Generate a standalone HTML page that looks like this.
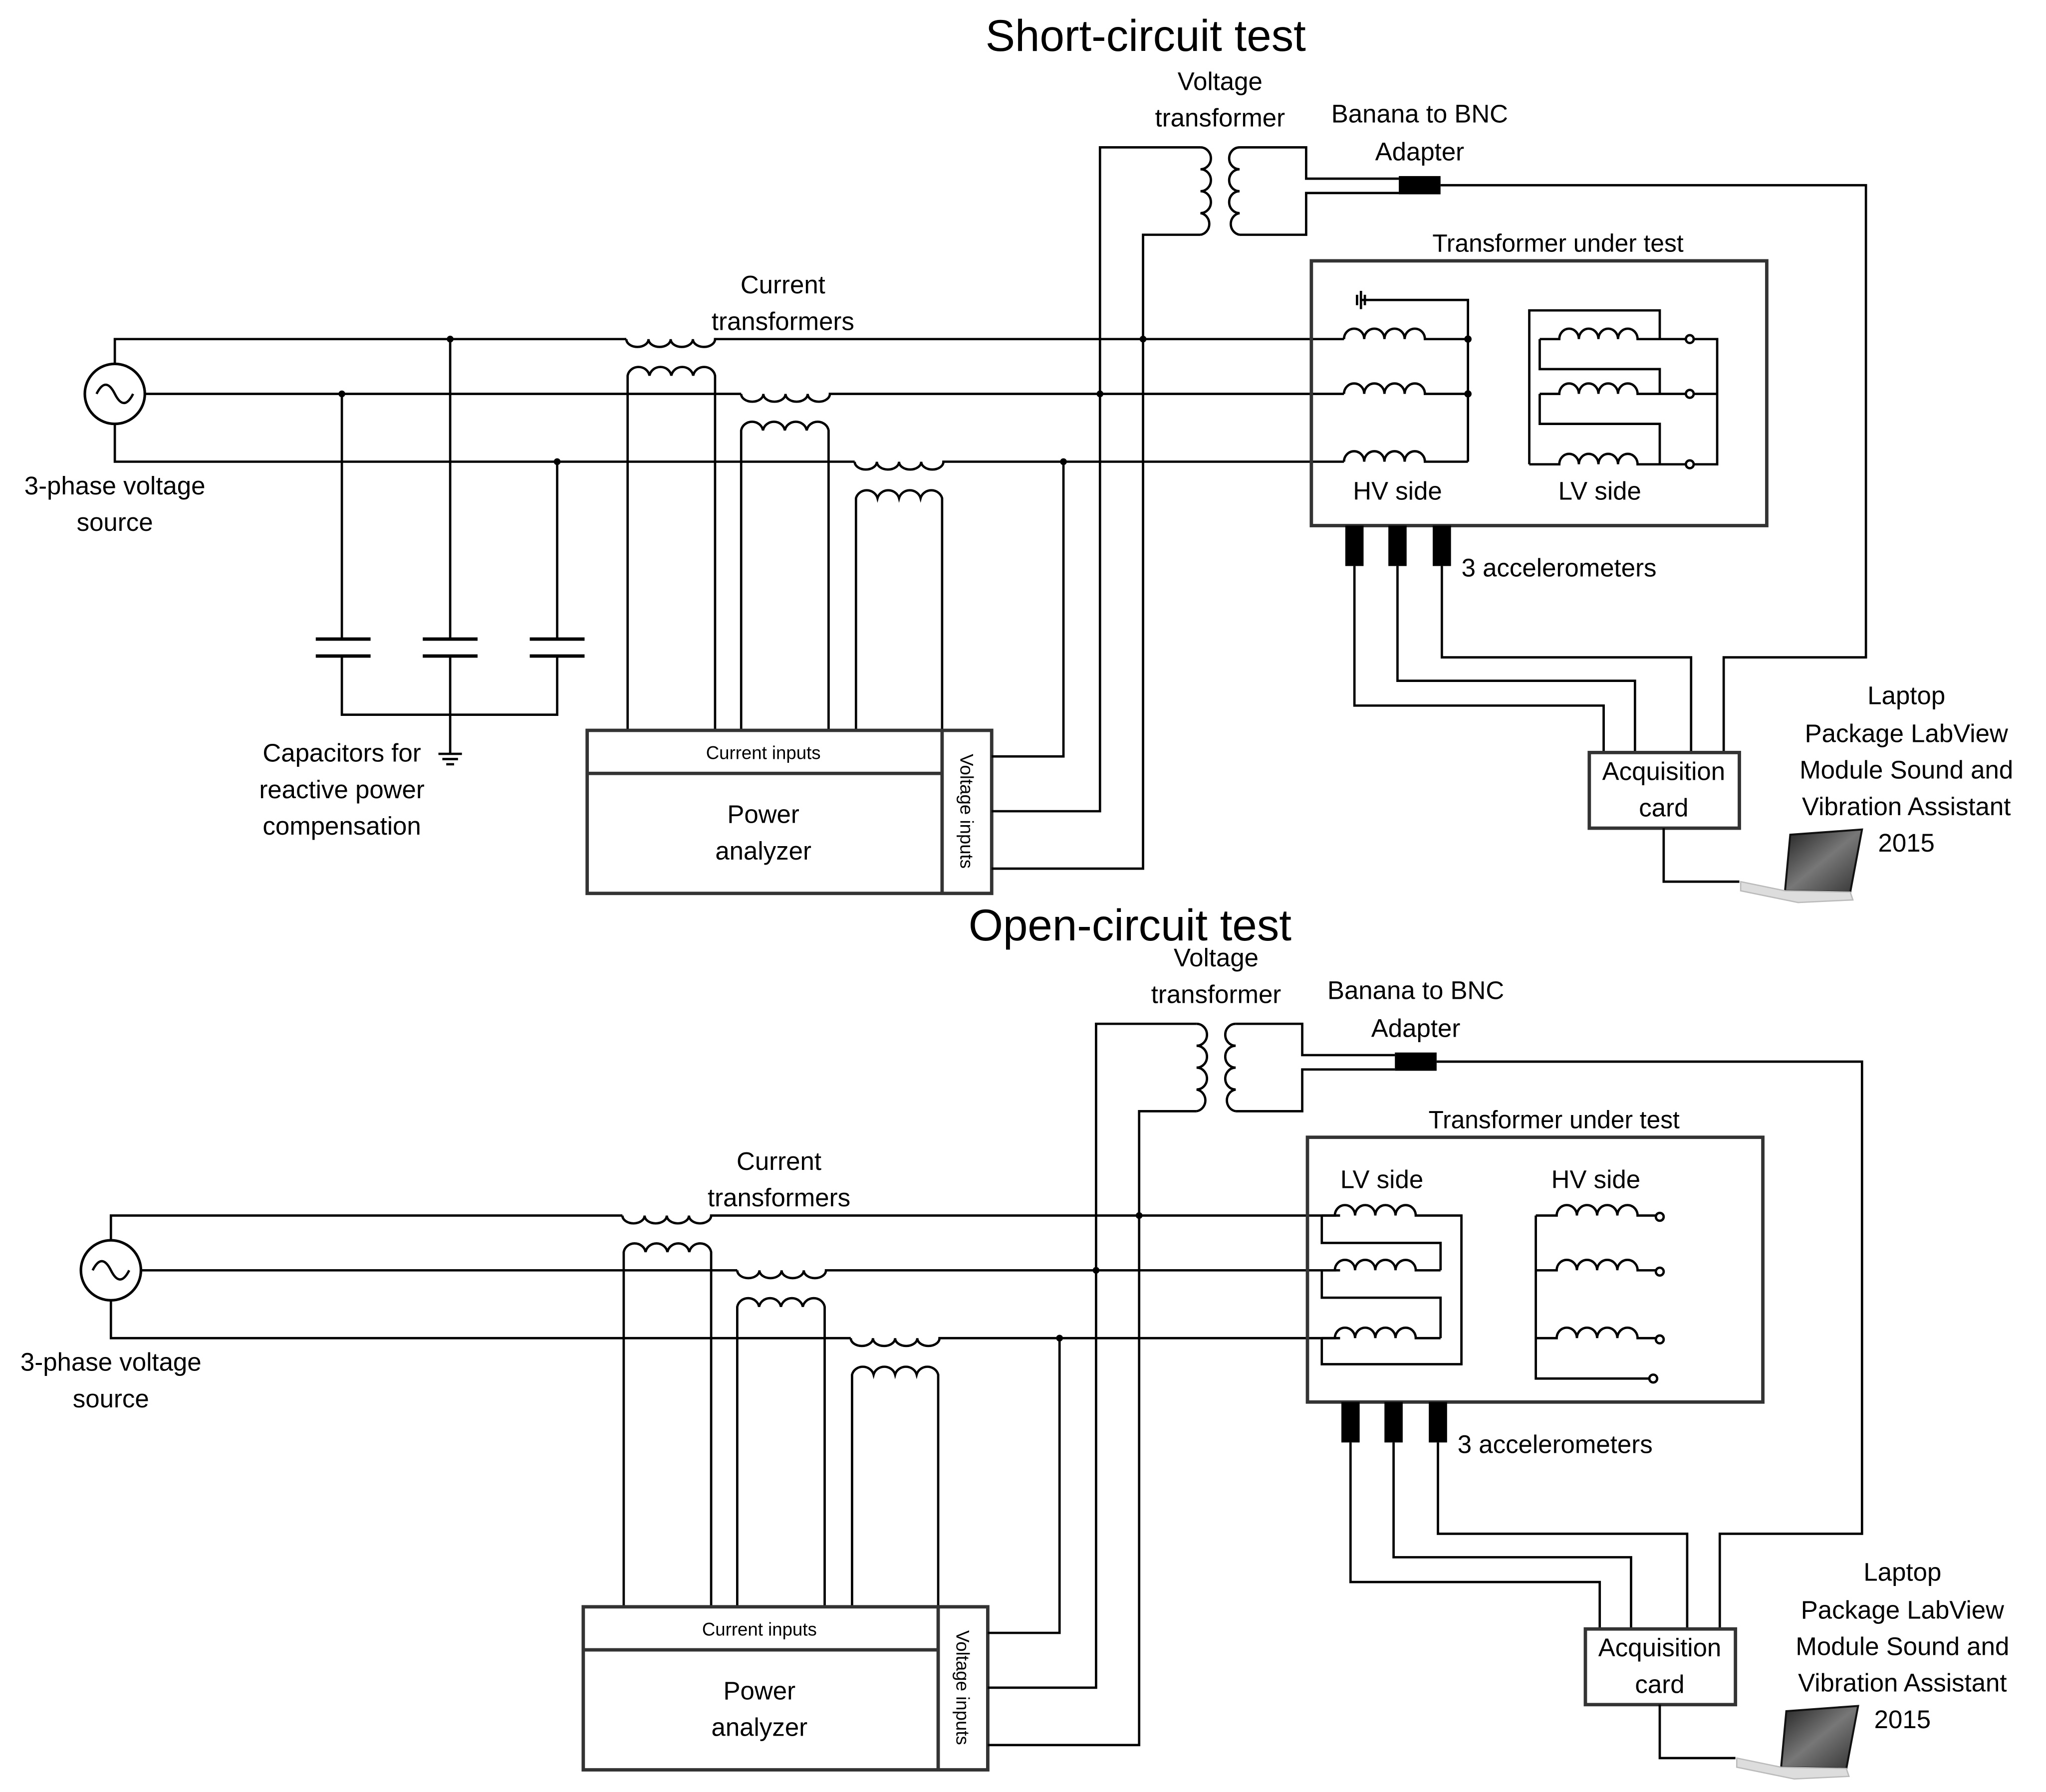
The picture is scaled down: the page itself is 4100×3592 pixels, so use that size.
<!DOCTYPE html>
<html><head><meta charset="utf-8">
<style>
html,body{margin:0;padding:0;background:#fff;}
svg{display:block;}
text{font-family:"Liberation Sans",sans-serif;fill:#000;}
</style></head>
<body>
<svg width="4100" height="3592" viewBox="0 0 1568 1374" preserveAspectRatio="none" xmlns="http://www.w3.org/2000/svg">
<defs>
<linearGradient id="scr" x1="0" y1="0" x2="1" y2="1">
<stop offset="0" stop-color="#222"/><stop offset="0.5" stop-color="#777"/><stop offset="1" stop-color="#333"/>
</linearGradient>
<g id="common" fill="none" stroke="#000" stroke-width="1.8">
  <circle cx="88" cy="302" r="23" stroke-width="2"/>
  <path d="M74,302 q7,-14 14,0 q7,14 14,0" stroke-width="1.8"/>
  <path d="M88,279 V260 H480"/>
  <path d="M111,302 H568"/>
  <path d="M88,325 V354 H655"/>
  <path d="M480,260 a8.5,6 0 0 0 17,0 a8.5,6 0 0 0 17,0 a8.5,6 0 0 0 17,0 a8.5,6 0 0 0 17,0 H1030"/>
  <path d="M481,560 V288 a8.5,8 0 0 1 16.75,0 a8.5,8 0 0 1 16.75,0 a8.5,8 0 0 1 16.75,0 a8.5,8 0 0 1 16.75,0 V560"/>
  <path d="M568,302 a8.5,6 0 0 0 17,0 a8.5,6 0 0 0 17,0 a8.5,6 0 0 0 17,0 a8.5,6 0 0 0 17,0 H1030"/>
  <path d="M568,560 V330 a8.5,8 0 0 1 16.75,0 a8.5,8 0 0 1 16.75,0 a8.5,8 0 0 1 16.75,0 a8.5,8 0 0 1 16.75,0 V560"/>
  <path d="M655,354 a8.5,6 0 0 0 17,0 a8.5,6 0 0 0 17,0 a8.5,6 0 0 0 17,0 a8.5,6 0 0 0 17,0 H1030"/>
  <path d="M656,560 V382 a8.5,8 0 0 1 16.5,0 a8.5,8 0 0 1 16.5,0 a8.5,8 0 0 1 16.5,0 a8.5,8 0 0 1 16.5,0 V560"/>
  <rect x="450" y="560" width="310" height="125" stroke="#333" stroke-width="2.6"/>
  <path d="M450,593 H722 M722,560 V685" stroke="#333" stroke-width="2.6"/>
  <path d="M760,580 H815 V354"/>
  <path d="M760,622 H843 V113 H920"/>
  <path d="M760,666 H876 V180 H920"/>
  <path d="M920,113 a8,8.4 0 0 1 0,16.8 a8,8.4 0 0 1 0,16.8 a8,8.4 0 0 1 0,16.8 a8,8.4 0 0 1 0,16.6"/>
  <path d="M950,113 a8,8.4 0 0 0 0,16.8 a8,8.4 0 0 0 0,16.8 a8,8.4 0 0 0 0,16.8 a8,8.4 0 0 0 0,16.6"/>
  <path d="M950,113 H1001 V137 H1072"/>
  <path d="M950,180 H1001 V148 H1072"/>
  <rect x="1072" y="135" width="32" height="14" fill="#000" stroke="none"/>
  <path d="M1104,142 H1430 V504 H1321 V577"/>
  <rect x="1005" y="200" width="349" height="203" stroke="#333" stroke-width="2.6"/>
  <rect x="1031" y="403" width="14" height="31" fill="#000" stroke="none"/>
  <rect x="1064" y="403" width="14" height="31" fill="#000" stroke="none"/>
  <rect x="1098" y="403" width="14" height="31" fill="#000" stroke="none"/>
  <path d="M1038,434 V541 H1229 V577"/>
  <path d="M1071,434 V522 H1253 V577"/>
  <path d="M1105,434 V504 H1296 V577"/>
  <rect x="1218" y="577" width="115" height="58" stroke="#333" stroke-width="2.6"/>
  <path d="M1275,635 V676 H1333"/>
</g>
<g id="dots" fill="#000">
  <circle cx="876" cy="260" r="2.6"/><circle cx="843" cy="302" r="2.6"/><circle cx="815" cy="354" r="2.6"/>
</g>
<g id="laptop">
  <polygon points="1372,640 1427,636 1418,684 1368,683" fill="url(#scr)" stroke="#111" stroke-width="1.5"/>
  <polygon points="1334,676 1368,683 1418,684 1420,690 1378,692 1334,683" fill="#ddd" stroke="#bbb" stroke-width="1"/>
</g>
<g id="commontext">
  <text x="935" y="69" font-size="19.5" text-anchor="middle">Voltage</text>
  <text x="935" y="97" font-size="19.5" text-anchor="middle">transformer</text>
  <text x="1088" y="94" font-size="19.5" text-anchor="middle">Banana to BNC</text>
  <text x="1088" y="123" font-size="19.5" text-anchor="middle">Adapter</text>
  <text x="1194" y="193" font-size="19" text-anchor="middle">Transformer under test</text>
  <text x="600" y="225" font-size="19.5" text-anchor="middle">Current</text>
  <text x="600" y="253" font-size="19.5" text-anchor="middle">transformers</text>
  <text x="88" y="379" font-size="19.5" text-anchor="middle">3-phase voltage</text>
  <text x="88" y="407" font-size="19.5" text-anchor="middle">source</text>
  <text x="585" y="582" font-size="14" text-anchor="middle">Current inputs</text>
  <text x="585" y="631" font-size="19.5" text-anchor="middle">Power</text>
  <text x="585" y="659" font-size="19.5" text-anchor="middle">analyzer</text>
  <text x="0" y="0" font-size="14" text-anchor="middle" transform="translate(736,622) rotate(90)">Voltage inputs</text>
  <text x="1120" y="442" font-size="19.5">3 accelerometers</text>
  <text x="1275" y="598" font-size="19.5" text-anchor="middle">Acquisition</text>
  <text x="1275" y="626" font-size="19.5" text-anchor="middle">card</text>
  <text x="1461" y="540" font-size="19.5" text-anchor="middle">Laptop</text>
  <text x="1461" y="569" font-size="19.5" text-anchor="middle">Package LabView</text>
  <text x="1461" y="597" font-size="19.5" text-anchor="middle">Module Sound and</text>
  <text x="1461" y="625" font-size="19.5" text-anchor="middle">Vibration Assistant</text>
  <text x="1461" y="653" font-size="19.5" text-anchor="middle">2015</text>
</g>
</defs>

<text x="878" y="39" font-size="34" text-anchor="middle">Short-circuit test</text>
<use href="#common"/>
<use href="#dots"/>
<use href="#laptop"/>
<use href="#commontext"/>
<g fill="none" stroke="#000" stroke-width="1.8">
  <path d="M262,302 V490 M345,260 V490 M427,354 V490"/>
  <path d="M242,490 H284 M242,503 H284 M324,490 H366 M324,503 H366 M406,490 H448 M406,503 H448" stroke-width="2.6"/>
  <path d="M262,503 V548 H427 V503 M345,503 V578"/>
  <path d="M336,578 H354 M339,582 H351 M342,586 H348" stroke-width="1.8"/>
  <path d="M1030,260 a7.75,8 0 0 1 15.5,0 a7.75,8 0 0 1 15.5,0 a7.75,8 0 0 1 15.5,0 a7.75,8 0 0 1 15.5,0 H1125"/>
  <path d="M1030,302 a7.75,8 0 0 1 15.5,0 a7.75,8 0 0 1 15.5,0 a7.75,8 0 0 1 15.5,0 a7.75,8 0 0 1 15.5,0 H1125"/>
  <path d="M1030,354 a7.75,8 0 0 1 15.5,0 a7.75,8 0 0 1 15.5,0 a7.75,8 0 0 1 15.5,0 a7.75,8 0 0 1 15.5,0 H1125"/>
  <path d="M1043,230 H1125 V354"/>
  <path d="M1043,223 V237 M1040,226 V234 M1046,226 V234"/>
  <path d="M1172,356 V238 H1272 V260"/>
  <path d="M1180,260 H1195 a7.5,8 0 0 1 15,0 a7.5,8 0 0 1 15,0 a7.5,8 0 0 1 15,0 a7.5,8 0 0 1 15,0 H1292 M1298,260 H1316 V356 H1298"/>
  <path d="M1180,260 V283 H1272 V302"/>
  <path d="M1180,302 H1195 a7.5,8 0 0 1 15,0 a7.5,8 0 0 1 15,0 a7.5,8 0 0 1 15,0 a7.5,8 0 0 1 15,0 H1292 M1298,302 H1316"/>
  <path d="M1180,302 V325 H1272 V356"/>
  <path d="M1172,356 H1195 a7.5,8 0 0 1 15,0 a7.5,8 0 0 1 15,0 a7.5,8 0 0 1 15,0 a7.5,8 0 0 1 15,0 H1292"/>
  <circle cx="1295" cy="260" r="3"/><circle cx="1295" cy="302" r="3"/><circle cx="1295" cy="356" r="3"/>
</g>
<g fill="#000">
  <circle cx="345" cy="260" r="2.6"/><circle cx="262" cy="302" r="2.6"/><circle cx="427" cy="354" r="2.6"/>
  <circle cx="1125" cy="260" r="2.8"/><circle cx="1125" cy="302" r="2.8"/>
</g>
<text x="262" y="584" font-size="19.5" text-anchor="middle">Capacitors for</text>
<text x="262" y="612" font-size="19.5" text-anchor="middle">reactive power</text>
<text x="262" y="640" font-size="19.5" text-anchor="middle">compensation</text>
<text x="1071" y="383" font-size="19.5" text-anchor="middle">HV side</text>
<text x="1226" y="383" font-size="19.5" text-anchor="middle">LV side</text>

<text x="866" y="721" font-size="34" text-anchor="middle">Open-circuit test</text>
<g transform="translate(-3,672)">
<use href="#common"/>
<use href="#dots"/>
<use href="#laptop"/>
<use href="#commontext"/>
<g fill="none" stroke="#000" stroke-width="1.8">
  <path d="M1016,260 H1026 a7.75,8 0 0 1 15.5,0 a7.75,8 0 0 1 15.5,0 a7.75,8 0 0 1 15.5,0 a7.75,8 0 0 1 15.5,0 H1123 V374 H1016 V354"/>
  <path d="M1016,260 V281 H1107 V302"/>
  <path d="M1016,302 H1026 a7.75,8 0 0 1 15.5,0 a7.75,8 0 0 1 15.5,0 a7.75,8 0 0 1 15.5,0 a7.75,8 0 0 1 15.5,0 H1107"/>
  <path d="M1016,302 V323 H1107 V354"/>
  <path d="M1016,354 H1026 a7.75,8 0 0 1 15.5,0 a7.75,8 0 0 1 15.5,0 a7.75,8 0 0 1 15.5,0 a7.75,8 0 0 1 15.5,0 H1107"/>
  <path d="M1180,260 V385 H1267"/>
  <path d="M1180,260 H1196 a7.75,8 0 0 1 15.5,0 a7.75,8 0 0 1 15.5,0 a7.75,8 0 0 1 15.5,0 a7.75,8 0 0 1 15.5,0 H1272"/>
  <path d="M1180,302 H1196 a7.75,8 0 0 1 15.5,0 a7.75,8 0 0 1 15.5,0 a7.75,8 0 0 1 15.5,0 a7.75,8 0 0 1 15.5,0 H1272"/>
  <path d="M1180,354 H1196 a7.75,8 0 0 1 15.5,0 a7.75,8 0 0 1 15.5,0 a7.75,8 0 0 1 15.5,0 a7.75,8 0 0 1 15.5,0 H1272"/>
  <circle cx="1275" cy="261" r="3"/><circle cx="1275" cy="303" r="3"/><circle cx="1275" cy="355" r="3"/><circle cx="1270" cy="385" r="3"/>
</g>
<text x="1062" y="239" font-size="19.5" text-anchor="middle">LV side</text>
<text x="1226" y="239" font-size="19.5" text-anchor="middle">HV side</text>
</g>
</svg>
</body></html>
